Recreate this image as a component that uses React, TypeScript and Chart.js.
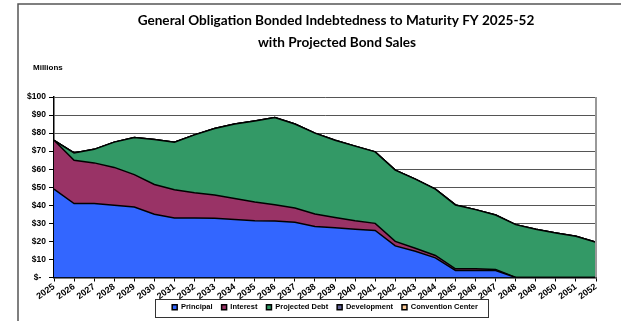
import React, { useEffect, useRef } from 'react';
import { Chart, registerables } from 'chart.js';

Chart.register(...registerables);

const years = ['2025','2026','2027','2028','2029','2030','2031','2032','2033','2034','2035','2036','2037','2038','2039','2040','2041','2042','2043','2044','2045','2046','2047','2048','2049','2050','2051','2052'];
const principal = [49, 41, 41, 40, 39, 35, 33, 33, 32.8, 32.2, 31.5, 31.3, 30.6, 28.3, 27.5, 26.7, 26.1, 17.5, 14.5, 10.9, 3.9, 3.9, 3.9, 0, 0, 0, 0, 0];
const interest = [27, 24, 22.5, 21, 18, 16.5, 15.6, 14, 12.9, 11.6, 10.3, 9, 7.9, 6.9, 5.8, 4.8, 3.9, 2.5, 1.7, 1.3, 0.9, 0.9, 0.6, 0, 0, 0, 0, 0];
const projectedDebt = [0, 4, 7.5, 14, 20.5, 25, 26.4, 32, 36.8, 41.2, 44.9, 48.3, 46.5, 44.8, 42.7, 41.3, 39.6, 39.5, 38.3, 36.8, 35.4, 32.8, 30.1, 29.3, 26.7, 24.7, 22.8, 19.5];
const development = [0, 0, 0, 0, 0, 0, 0, 0, 0, 0, 0, 0, 0, 0, 0, 0, 0, 0, 0, 0, 0, 0, 0, 0, 0, 0, 0, 0];
const conventionCenter = [0, 0, 0, 0, 0, 0, 0, 0, 0, 0, 0, 0, 0, 0, 0, 0, 0, 0, 0, 0, 0, 0, 0, 0, 0, 0, 0, 0];
const yTicks = [0, 10, 20, 30, 40, 50, 60, 70, 80, 90, 100];

const titleLines = ['General Obligation Bonded Indebtedness to Maturity FY 2025-52', 'with Projected Bond Sales'];
const unitLabel = 'Millions';

const decor = {
  id: 'decor',
  afterDraw(chart: any) {
    const ctx = chart.ctx;
    const ca = chart.chartArea;
    ctx.save();
    // outer frame
    ctx.strokeStyle = '#555';
    ctx.lineWidth = 1.5;
    ctx.beginPath();
    ctx.moveTo(18, 330);
    ctx.lineTo(18, 4);
    ctx.lineTo(630, 4);
    ctx.stroke();
    // title
    ctx.fillStyle = '#000';
    ctx.textAlign = 'center';
    ctx.textBaseline = 'middle';
    ctx.font = 'bold 13.6px Lato';
    ctx.fillText(titleLines[0], 336, 21);
    ctx.fillText(titleLines[1], 337, 43);
    // unit label
    ctx.font = 'bold 8px "Liberation Sans"';
    ctx.textAlign = 'left';
    ctx.fillText(unitLabel, 33, 68);
    // right border of plot
    ctx.strokeStyle = '#999';
    ctx.lineWidth = 2;
    ctx.beginPath();
    ctx.moveTo(ca.right, ca.top);
    ctx.lineTo(ca.right, ca.bottom);
    ctx.stroke();
    // legend box
    const hb = chart.legend && chart.legend.legendHitBoxes;
    if (hb && hb.length) {
      const first = hb[0];
      const last = hb[hb.length - 1];
      const l = first.left - 17;
      const r = last.left + last.width + 10;
      const t = first.top - 5;
      const b = first.top + first.height + 5;
      ctx.strokeStyle = '#333';
      ctx.lineWidth = 1;
      ctx.strokeRect(Math.round(l) + 0.5, Math.round(t) + 0.5, Math.round(r - l), Math.round(b - t));
    }
    ctx.restore();
  },
};

export default function App() {
  const ref = useRef<HTMLCanvasElement | null>(null);
  useEffect(() => {
    document.body.style.margin = '0';
    const canvas = ref.current;
    if (!canvas) return;
    const mk = (label: string, data: number[], bg: string, fill: any) => ({
      label,
      data,
      backgroundColor: bg,
      borderColor: '#000',
      borderWidth: 1.5,
      fill,
      pointRadius: 0,
      tension: 0,
    });
    const chart = new Chart(canvas, {
      type: 'line',
      data: {
        labels: years,
        datasets: [
          mk('Principal', principal, '#3366FF', 'origin'),
          mk('Interest', interest, '#993366', '-1'),
          mk('Projected Debt', projectedDebt, '#339966', '-1'),
          mk('Development', development, '#666699', '-1'),
          mk('Convention Center', conventionCenter, '#FFCC99', '-1'),
        ],
      },
      options: {
        animation: false,
        responsive: false,
        devicePixelRatio: 1,
        layout: { padding: { top: 97, right: 25, left: 0, bottom: 0 } },
        plugins: {
          title: { display: false },
          tooltip: { enabled: false },
          legend: {
            display: true,
            position: 'bottom',
            fullSize: false,
            labels: {
              boxWidth: 5,
              boxHeight: 5,
              padding: 9,
              color: '#000',
              font: { family: 'Liberation Sans', size: 7.5, weight: 'bold' },
            },
          },
        },
        scales: {
          x: {
            offset: false,
            grid: { drawOnChartArea: false, drawTicks: true, tickLength: 4, color: '#000' },
            border: { color: '#000', width: 1.5 },
            ticks: {
              color: '#000',
              minRotation: 35,
              maxRotation: 35,
              autoSkip: false,
              padding: 0,
              font: { family: 'Liberation Sans', size: 9, weight: 'bold' },
            },
            afterFit: (s: any) => {
              s.height = 17;
              s._computeLabelArea = () => undefined;
            },
          },
          y: {
            stacked: true,
            min: 0,
            max: 100,
            afterBuildTicks: (s: any) => { s.ticks = yTicks.map((v) => ({ value: v })); },
            grid: { color: '#555', lineWidth: 1, tickLength: 5, tickColor: '#000' },
            border: { color: '#000', width: 1.5 },
            ticks: {
              color: '#000',
              padding: 3,
              font: { family: 'Liberation Sans', size: 8.5, weight: 'bold' },
              callback: (v: any) => (Number(v) === 0 ? '$-  ' : '$' + v),
            },
            afterFit: (s: any) => { s.width = 54; },
          },
        },
      },
      plugins: [decor],
    });
    return () => chart.destroy();
  }, []);
  return (
    <canvas ref={ref} width={621} height={321} style={{ display: 'block', width: 621, height: 321 }} />
  );
}
